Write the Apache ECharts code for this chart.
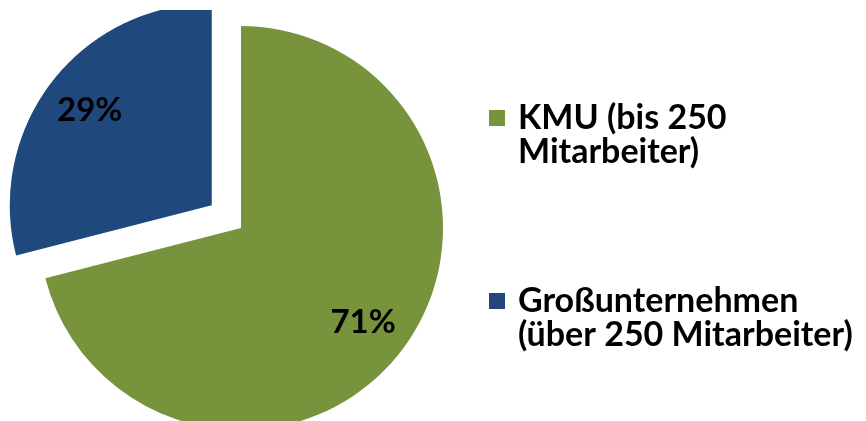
<!DOCTYPE html>
<html>
<head>
<meta charset="utf-8">
<script src="https://cdn.jsdelivr.net/npm/echarts@6/dist/echarts.min.js"></script>
<style>
html,body{margin:0;padding:0;background:#fff;}
#c{width:866px;height:421px;}
</style>
</head>
<body>
<div id="c"></div>
<script>
const categories = ['KMU (bis 250\nMitarbeiter)', 'Großunternehmen\n(über 250 Mitarbeiter)'];
const values = [71, 29];
const colors = ['#77933C', '#1F497D'];
const exploded = [false, true];

const chart = echarts.init(document.getElementById('c'), null, {renderer: 'canvas'});
const LH = 34;
const dataFull = categories.map((n, i) => ({
  name: n, value: values[i], selected: exploded[i],
  itemStyle: {color: colors[i]}
}));
const legendText = {
  fontFamily: 'Lato', fontWeight: 'bold', fontSize: 34, color: '#000',
  lineHeight: LH, padding: [0, 0, 0, 8]
};
const legendBase = {
  left: 484, itemWidth: 16, itemHeight: 16, icon: 'rect',
  selectedMode: false, textStyle: legendText,
  formatter: n => '\n' + n
};
const option = {
  animation: false,
  legend: [
    Object.assign({data: [categories[0]], top: 62}, legendBase),
    Object.assign({data: [categories[1]], top: 245}, legendBase)
  ],
  graphic: [{
    type: 'rect', left: 0, top: 0, z: 100,
    shape: {width: 480, height: 10}, style: {fill: '#fff'}, silent: true
  }],
  series: [
    {
      type: 'pie', center: [241, 228], radius: [0, 202], startAngle: 90, clockwise: true,
      selectedMode: 'single', selectedOffset: 37, silent: true,
      label: {show: false}, labelLine: {show: false},
      emphasis: {disabled: true},
      data: dataFull
    },
    {
      type: 'pie', center: [241, 228], radius: [101, 202], startAngle: 90, clockwise: true,
      selectedMode: 'single', selectedOffset: 37, silent: true,
      label: {show: true, position: 'inside', formatter: '{c}%', color: '#000',
              fontFamily: 'Lato', fontWeight: 'bold', fontSize: 33},
      labelLine: {show: false},
      emphasis: {disabled: true},
      data: dataFull.map(d => Object.assign({}, d, {itemStyle: {color: 'rgba(0,0,0,0)'}}))
    }
  ]
};
chart.setOption(option);
</script>
</body>
</html>
